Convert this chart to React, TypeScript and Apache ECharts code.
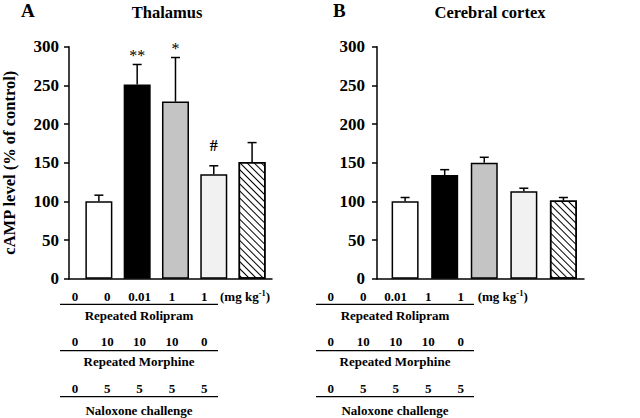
import React, { useEffect, useRef } from "react";
import * as echarts from "echarts";

const groups = [1, 2, 3, 4, 5];
const thalamusValues = [100, 251, 229, 135, 151];
const thalamusErrors = [8, 26, 57, 11, 25];
const thalamusMarks = ["", "**", "*", "#", ""];
const cortexValues = [100, 134, 150, 113, 101];
const cortexErrors = [5, 7, 7, 4, 4];
const cortexMarks = ["", "", "", "", ""];
const yTicks = [0, 50, 100, 150, 200, 250, 300];
const doseRolipram = ["0", "0", "0.01", "1", "1"];
const doseMorphine = ["0", "10", "10", "10", "0"];
const doseNaloxone = ["0", "5", "5", "5", "5"];
const rowLabels = ["Repeated Rolipram", "Repeated Morphine", "Naloxone challenge"];

const FONT = "'Liberation Serif', 'Times New Roman', serif";

const barStyles = [
  { color: "#ffffff" },
  { color: "#000000" },
  { color: "#c4c4c4" },
  { color: "#f1f1f1" },
  {
    color: "#ffffff",
    decal: {
      symbol: "rect",
      symbolSize: 1,
      color: "#000000",
      dashArrayX: [1, 0],
      dashArrayY: [1, 3.5],
      rotation: Math.PI / 4,
    },
  },
];

function makeBars(values: number[], axisIdx: number) {
  return {
    type: "bar",
    xAxisIndex: axisIdx,
    yAxisIndex: axisIdx,
    barWidth: 27,
    data: values.map((v, i) => ({
      value: [groups[i], v],
      itemStyle: { ...barStyles[i], borderColor: "#000", borderWidth: 1.5 },
    })),
  };
}

function makeErrors(values: number[], errs: number[], marks: string[], axisIdx: number) {
  return {
    type: "custom",
    xAxisIndex: axisIdx,
    yAxisIndex: axisIdx,
    z: 5,
    data: values.map((v, i) => [groups[i], v, errs[i]]),
    renderItem: (params: any, api: any) => {
      const x = api.value(0);
      const v = api.value(1);
      const e = api.value(2);
      const p0 = api.coord([x, v]);
      const p1 = api.coord([x, v + e]);
      const children: any[] = [
        { type: "line", shape: { x1: p0[0], y1: p0[1], x2: p1[0], y2: p1[1] }, style: { stroke: "#000", lineWidth: 1.5 } },
        { type: "line", shape: { x1: p1[0] - 4.5, y1: p1[1], x2: p1[0] + 4.5, y2: p1[1] }, style: { stroke: "#000", lineWidth: 1.5 } },
      ];
      const m = marks[params.dataIndex];
      if (m) {
        const isStar = m.indexOf("*") >= 0;
        children.push({
          type: "text",
          x: p1[0],
          y: p1[1] - (isStar ? 9 : 20),
          style: {
            text: m,
            font: (isStar ? "16px " : "bold 16px ") + FONT,
            fill: "#000",
            align: "center",
            verticalAlign: "middle",
          },
        });
      }
      return { type: "group", children };
    },
  };
}

function tableGraphics(x0: number, step: number, lineX1: number, lineX2: number, unitX: number) {
  const rows = [doseRolipram, doseMorphine, doseNaloxone];
  const rowY = [296.7, 341, 388];
  const lineY = [304.3, 350.7, 396.7];
  const labelY = [315, 361, 410];
  const els: any[] = [];
  rows.forEach((row, r) => {
    row.forEach((t, i) => {
      els.push({
        type: "text",
        x: x0 + step * i,
        y: rowY[r],
        style: { text: t, font: "bold 13px " + FONT, fill: "#000", align: "center", verticalAlign: "middle" },
      });
    });
    els.push({
      type: "line",
      shape: { x1: lineX1, y1: lineY[r], x2: lineX2, y2: lineY[r] },
      style: { stroke: "#000", lineWidth: 1.2 },
    });
    els.push({
      type: "text",
      x: (lineX1 + lineX2) / 2,
      y: labelY[r],
      style: { text: rowLabels[r], font: "bold 13px " + FONT, fill: "#000", align: "center", verticalAlign: "middle" },
    });
  });
  els.push({
    type: "text",
    x: unitX,
    y: 296,
    style: {
      text: "(mg kg{sup|-1})",
      font: "bold 13px " + FONT,
      fill: "#000",
      align: "left",
      verticalAlign: "middle",
      rich: { sup: { font: "bold 8.5px " + FONT, fill: "#000", verticalAlign: "top", padding: [0, 0, 6, 0] } },
    },
  });
  return els;
}

export default function App() {
  const ref = useRef<HTMLDivElement>(null);
  useEffect(() => {
    if (!ref.current) return;
    const chart = echarts.init(ref.current, null, { renderer: "svg" });
    const yAxisBase = (margin: number) => ({
      type: "value",
      min: 0,
      max: 300,
      interval: 50,
      axisLine: { show: true, lineStyle: { color: "#000", width: 1.5 } },
      axisTick: { show: true, length: 5, lineStyle: { color: "#000", width: 1.5 } },
      splitLine: { show: false },
      axisLabel: {
        margin,
        color: "#000",
        fontFamily: FONT,
        fontWeight: "bold",
        fontSize: 17,
        formatter: (v: number) => (yTicks.indexOf(v) >= 0 ? String(v) : ""),
      },
    });
    const xAxisBase = (min: number, max: number, idx: number) => ({
      type: "value",
      gridIndex: idx,
      min,
      max,
      axisLine: { show: true, onZero: false, lineStyle: { color: "#000", width: 1.5 } },
      axisTick: { show: false },
      axisLabel: { show: false },
      splitLine: { show: false },
    });
    chart.setOption({
      animation: false,
      backgroundColor: "#fff",
      grid: [
        { left: 62, top: 46.7, width: 210, height: 232 },
        { left: 377, top: 46.7, width: 207, height: 232 },
      ],
      xAxis: [xAxisBase(0.22, 5.52, 0), xAxisBase(0.29, 5.52, 1)],
      yAxis: [
        {
          ...yAxisBase(10),
          gridIndex: 0,
          name: "cAMP level (% of control)",
          nameLocation: "middle",
          nameGap: 51,
          nameTextStyle: { color: "#000", fontFamily: FONT, fontWeight: "bold", fontSize: 16.5 },
        },
        { ...yAxisBase(12), gridIndex: 1 },
      ],
      series: [
        makeBars(thalamusValues, 0),
        makeErrors(thalamusValues, thalamusErrors, thalamusMarks, 0),
        makeBars(cortexValues, 1),
        makeErrors(cortexValues, cortexErrors, cortexMarks, 1),
      ],
      graphic: [
        { type: "text", x: 21, y: 10, style: { text: "A", font: "bold 19px " + FONT, fill: "#000", align: "left", verticalAlign: "middle" } },
        { type: "text", x: 167, y: 12.5, style: { text: "Thalamus", font: "bold 16.5px " + FONT, fill: "#000", align: "center", verticalAlign: "middle" } },
        { type: "text", x: 333, y: 10, style: { text: "B", font: "bold 19px " + FONT, fill: "#000", align: "left", verticalAlign: "middle" } },
        { type: "text", x: 490, y: 12.5, style: { text: "Cerebral cortex", font: "bold 16.5px " + FONT, fill: "#000", align: "center", verticalAlign: "middle" } },
        ...tableGraphics(75, 32.3, 60, 218, 220),
        ...tableGraphics(330.7, 32.5, 316, 474, 477.7),
      ],
    });
    return () => chart.dispose();
  }, []);
  return <div ref={ref} style={{ position: "fixed", left: 0, top: 0, width: 640, height: 418 }} />;
}
